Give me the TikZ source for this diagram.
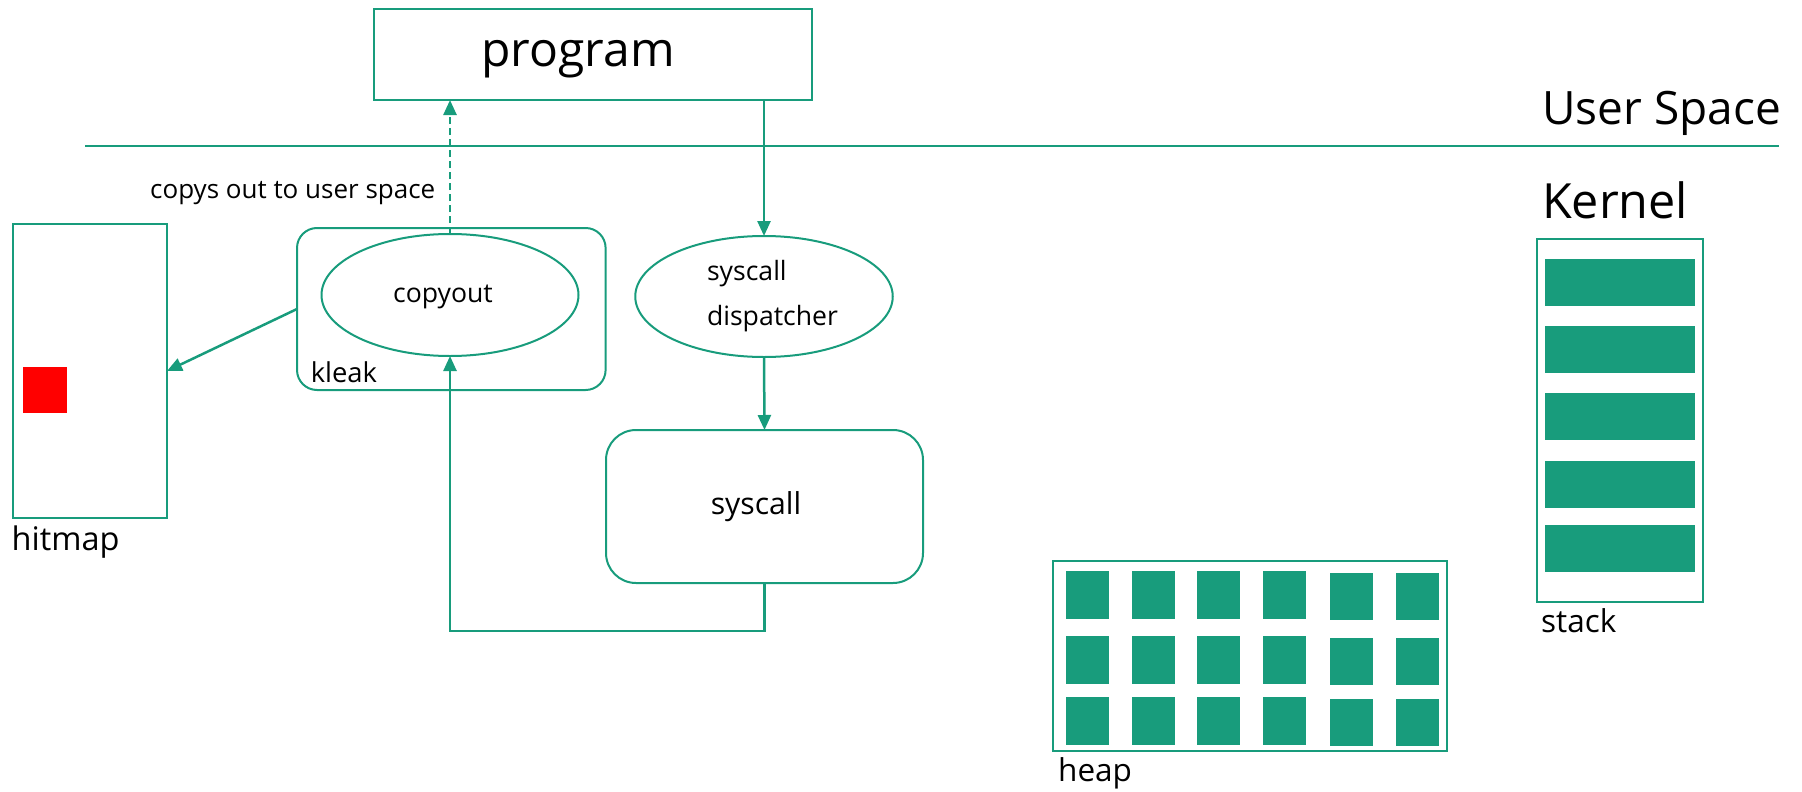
\documentclass[tikz,border=0pt]{standalone}
\usepackage{fontspec}
\setmainfont{Open Sans}
\usetikzlibrary{arrows.meta,shapes.geometric}
\definecolor{teal1}{RGB}{24,156,124}
\begin{document}
\begin{tikzpicture}[x=1pt,y=-1pt,
  box/.style={draw=teal1,line width=2pt,inner sep=0pt,outer sep=0pt},
  ell/.style={box,ellipse},
  rbox/.style={box,rounded corners=#1},
  conn/.style={draw=teal1,line width=2.5pt,-{Triangle[length=15pt,width=13pt]}},
  lbl/.style={anchor=base west,inner sep=0pt,font=\fontsize{31.5}{38}\selectfont},
  cell/.style={fill=teal1}]
\useasboundingbox (0,0) rectangle (1802,792);

% top program box
\node[box, minimum width=438.6pt, minimum height=91pt, font=\fontsize{48}{58}\selectfont] (program) at (593,54.5) {\raisebox{-12.5pt}[0pt][0pt]{program}\hspace*{30pt}};

% separator
\coordinate (sepL) at (85,146);
\coordinate (sepR) at (1779,146);
\draw[teal1, line width=2pt] (sepL) -- (sepR);

% kleak container and copyout
\node[rbox=20pt, minimum width=308.6pt, minimum height=162pt] (kleak) at (451.3,309) {};
\node[ell, minimum width=257pt, minimum height=122pt, font=\fontsize{26.6}{32}\selectfont] (copyout) at (450,295) {\raisebox{-7pt}[0pt][0pt]{copyout}\hspace*{14pt}};
\node[lbl, font=\fontsize{27.4}{33}\selectfont] (kleaklbl) at (310.6,382) {kleak};

% dispatcher
\node[ell, minimum width=257.5pt, minimum height=121pt, align=left, font=\fontsize{26.6}{45}\selectfont] (dispatcher) at (764,296.5) {\hspace*{17pt}syscall\\\hspace*{17pt}dispatcher};

% syscall
\node[rbox=30pt, minimum width=317pt, minimum height=153pt, font=\fontsize{30.2}{36}\selectfont] (syscall) at (764.5,506.5) {syscall\hspace*{17pt}};

% hitmap
\node[box, minimum width=154.4pt, minimum height=294pt] (hitmap) at (89.8,371) {};
\node[fill=red, inner sep=0pt, minimum width=44pt, minimum height=46pt] (hit) at (45,390) {};
\node[lbl, font=\fontsize{32.5}{39}\selectfont] (hitmaplbl) at (11.5,550) {hitmap};

% stack
\node[box, minimum width=166pt, minimum height=363pt] (stack) at (1620,420.2) {};
\foreach \t in {258.7,326,393,460.7,524.7}
  \fill[cell] (1545,\t) rectangle ++(150,47);
\node[lbl] (stacklbl) at (1541,632) {stack};

% heap
\node[box, minimum width=393.8pt, minimum height=190.6pt] (heap) at (1249.6,656) {};
\foreach \x in {1065.5,1131.5,1197,1263}
  \foreach \y in {571.3,636.3,697.3}
    \fill[cell] (\x,\y) rectangle ++(43,47.4);
\foreach \x in {1330,1396.4}
  \foreach \y in {573,638,699}
    \fill[cell] (\x,\y) rectangle ++(43,47.4);
\node[lbl] (heaplbl) at (1058,781) {heap};

% region labels
\node[lbl, font=\fontsize{46}{55}\selectfont] (userlbl) at (1542,124) {User Space};
\node[lbl, font=\fontsize{48.5}{58}\selectfont] (kernellbl) at (1542,218) {Kernel};
\node[lbl, font=\fontsize{26}{31}\selectfont] (copylbl) at (150,198) {copys out to user space};

% connectors
\draw[conn, dash pattern=on 7pt off 4pt] (copyout.north) -- (copyout.north |- program.south);
\draw[conn] (dispatcher.north |- program.south) -- (dispatcher.north);
\draw[conn] (dispatcher.south) -- (syscall.north);
\draw[conn] (syscall.south) -- ++(0,48) -| (copyout.south);
\draw[conn] (kleak.west) -- (hitmap.east);
\end{tikzpicture}
\end{document}
